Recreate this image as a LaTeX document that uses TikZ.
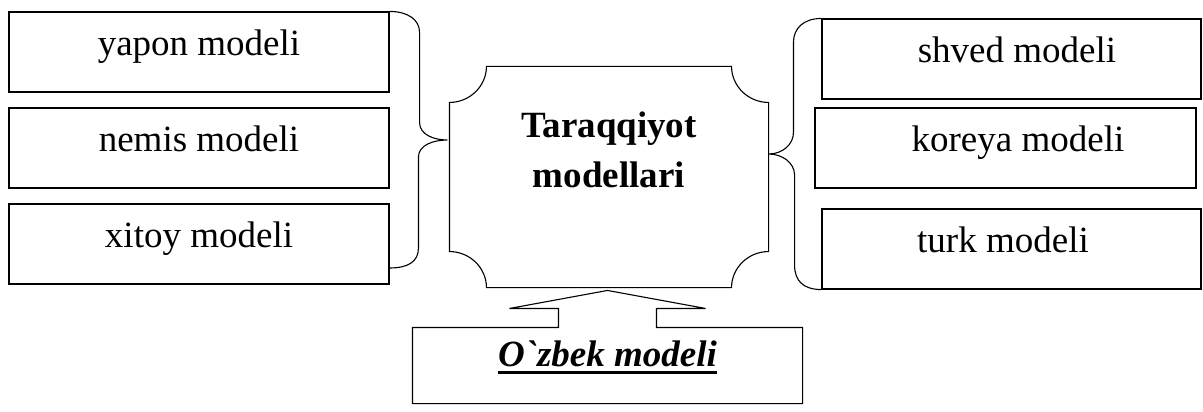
\documentclass[tikz,border=0pt]{standalone}
\usepackage{fontspec}
\setmainfont{Liberation Serif}
\usetikzlibrary{calc}
\newcommand\thickul[1]{\setbox0\hbox{#1}\rlap{\rule[-7.5pt]{\wd0}{3pt}}\box0}
\begin{document}
\begin{tikzpicture}[x=1pt,y=-1pt,line width=1.1pt,
  box/.style={draw,minimum width=380pt,minimum height=80pt,inner sep=0pt,
    font=\fontsize{37}{44}\selectfont,text height=20pt,text depth=13pt},
  plain/.style={inner sep=0pt},
  conn/.style={draw,line width=1.1pt}]
\useasboundingbox (0,0) rectangle (1203,412);
% left boxes
\node[box] (yap) at (199,52) {yapon modeli};
\node[box] (nem) at (199,148) {nemis modeli};
\node[box] (xit) at (199,244) {xitoy modeli};
% right boxes
\node[box,minimum width=379pt] (shv) at (1011.5,59) {\hspace*{11pt}shved modeli};
\node[box,minimum width=381pt] (kor) at (1005.5,148) {\hspace*{25pt}koreya modeli};
\node[box,minimum width=379pt] (tur) at (1011.5,249) {turk modeli\hspace*{17pt}};
% central plaque
\node[plain,minimum width=318pt,minimum height=220pt] (cen) at (609,177) {};
\draw ($(cen.north west)+(37,0)$) -- ($(cen.north east)+(-37,0)$)
  .. controls ($(cen.north east)+(-37,20)$) and ($(cen.north east)+(-20,36)$) .. ($(cen.north east)+(0,36)$)
  -- ($(cen.south east)+(0,-36)$)
  .. controls ($(cen.south east)+(-20,-36)$) and ($(cen.south east)+(-37,-20)$) .. ($(cen.south east)+(-37,0)$)
  -- ($(cen.south west)+(37,0)$)
  .. controls ($(cen.south west)+(37,-20)$) and ($(cen.south west)+(20,-36)$) .. ($(cen.south west)+(0,-36)$)
  -- ($(cen.north west)+(0,36)$)
  .. controls ($(cen.north west)+(20,36)$) and ($(cen.north west)+(37,20)$) .. cycle;
\node[plain,anchor=base,align=center,font=\bfseries\fontsize{37}{50}\selectfont] (tit) at (609,187) {Taraqqiyot\\modellari};
% bottom box with block arrow
\node[plain,minimum width=389pt,minimum height=75pt,text height=14pt,text depth=13pt,
  font=\bfseries\itshape\fontsize{37}{44}\selectfont] (ozb) at (607.5,365.5) {\thickul{O\textasciigrave zbek modeli}};
\draw (ozb.north west) -- ($(ozb.north)+(-49,0)$) -- ++(0,-19) -- ++(-49,0)
  -- ($(ozb.north)+(0,-37)$) -- ($(ozb.north)+(98,-19)$) -- ++(-49,0) -- ++(0,19)
  -- (ozb.north east) -- (ozb.south east) -- (ozb.south west) -- cycle;
% braces
\coordinate (ltip) at ($(cen.west)+(-2,-37)$);
\coordinate (rtip) at ($(cen.east)+(0,-23)$);
\draw[conn] (yap.north east) .. controls +(18,0) and +(0,-13) .. ++(30,21)
  -- ++(0,90) .. controls +(0,12) and +(-14,0) .. (ltip)
  .. controls +(-14,0) and +(0,-12) .. ++(-29,17)
  -- ++(0,91) .. controls +(0,14) and +(18,0) .. ($(xit.east)+(0,24)$);
\draw[conn] (shv.north west) .. controls +(-18,0) and +(0,-14) .. ++(-28,24)
  -- ++(0,90) .. controls +(0,12) and +(14,0) .. (rtip)
  .. controls +(14,0) and +(0,-12) .. ++(26,21)
  -- ++(0,90) .. controls +(0,16) and +(-18,0) .. (tur.south west);
\end{tikzpicture}
\end{document}
